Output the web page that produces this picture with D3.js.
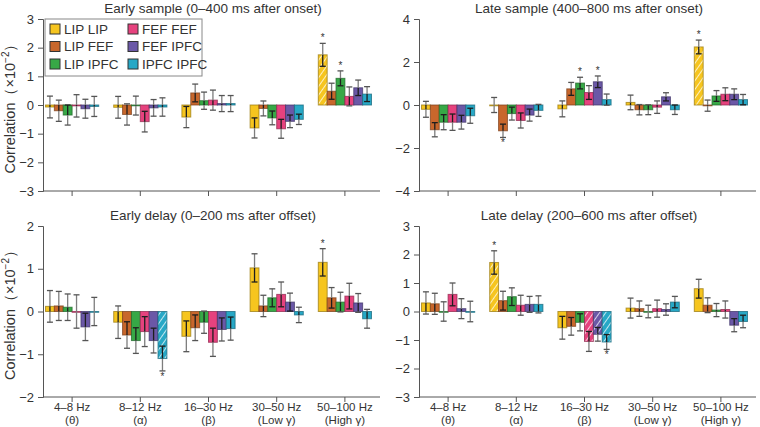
<!DOCTYPE html>
<html><head><meta charset="utf-8">
<script src="https://cdn.jsdelivr.net/npm/d3@7/dist/d3.min.js"></script>
<style>body{margin:0;background:#fff}svg{display:block;font-family:"Liberation Sans",Arial,sans-serif}</style>
</head><body><svg id="c" width="760" height="427"></svg>
<script>
const categories = ["4–8 Hz","8–12 Hz","16–30 Hz","30–50 Hz","50–100 Hz"];
const bandSymbols = ["(θ)","(α)","(β)","(Low γ)","(High γ)"];
const pairs = ["LIP LIP","LIP FEF","LIP IPFC","FEF FEF","FEF IPFC","IPFC IPFC"];
const pairColors = ["#f6c51f","#c8672c","#37a846","#e6427e","#6b58a7","#27a8c6"];
const panelTitles = ["Early sample (0–400 ms after onset)","Late sample (400–800 ms after onset)","Early delay (0–200 ms after offset)","Late delay (200–600 ms after offset)"];
const yLimits = [[-3,3],[-4,4],[-2,2],[-3,3]];
const yTicks = [[-3,-2,-1,0,1,2,3],[-4,-2,0,2,4],[-2,-1,0,1,2],[-3,-2,-1,0,1,2,3]];

const earlySampleValues = [[-0.07,-0.2,-0.35,-0.03,-0.13,-0.05],[-0.08,-0.33,-0.02,-0.58,-0.1,-0.07],[-0.42,0.42,0.15,0.17,0.05,0.05],[-0.8,-0.12,-0.45,-0.83,-0.57,-0.5],[1.75,0.48,0.93,0.3,0.6,0.38]];
const earlySampleErrors = [[0.38,0.37,0.35,0.39,0.33,0.35],[0.38,0.37,0.33,0.36,0.29,0.32],[0.37,0.31,0.3,0.35,0.28,0.28],[0.35,0.26,0.24,0.33,0.22,0.18],[0.4,0.28,0.26,0.33,0.27,0.26]];
const lateSampleValues = [[-0.2,-1.15,-0.8,-0.8,-0.8,-0.5],[0,-1.2,-0.4,-0.72,-0.47,-0.25],[-0.18,0.75,1.02,0.58,1.08,0.25],[0.12,-0.22,-0.22,-0.1,0.38,-0.22],[2.7,-0.03,0.42,0.5,0.5,0.25]];
const lateSampleErrors = [[0.37,0.33,0.35,0.38,0.32,0.35],[0.35,0.31,0.3,0.35,0.28,0.28],[0.37,0.3,0.27,0.32,0.27,0.26],[0.34,0.24,0.23,0.29,0.19,0.22],[0.32,0.26,0.25,0.3,0.25,0.24]];
const earlyDelayValues = [[0.12,0.13,0.1,0,-0.36,0],[-0.25,-0.55,-0.68,-0.47,-0.68,-1.1],[-0.58,-0.38,-0.25,-0.72,-0.42,-0.4],[1.02,0.13,0.32,0.4,0.22,-0.08],[1.15,0.32,0.22,0.36,0.2,-0.17]];
const earlyDelayErrors = [[0.37,0.34,0.31,0.39,0.32,0.33],[0.38,0.31,0.3,0.35,0.29,0.29],[0.36,0.3,0.26,0.33,0.27,0.27],[0.33,0.25,0.21,0.29,0.21,0.18],[0.32,0.24,0.23,0.3,0.22,0.22]];
const lateDelayValues = [[0.3,0.27,0,0.6,0.1,0],[1.72,0.38,0.52,0.22,0.25,0.25],[-0.57,-0.52,-0.38,-1.05,-0.8,-1.07],[0.12,0.1,0,0.1,0.07,0.33],[0.8,0.22,0.05,0.07,-0.48,-0.35]];
const lateDelayErrors = [[0.39,0.37,0.34,0.4,0.35,0.36],[0.41,0.33,0.31,0.35,0.28,0.3],[0.4,0.31,0.3,0.35,0.24,0.26],[0.35,0.27,0.22,0.3,0.2,0.2],[0.33,0.26,0.23,0.3,0.23,0.22]];
// [group, pair]
const hatchedBars = [[[4,0]],[[4,0]],[[1,5]],[[1,0],[2,3],[2,4],[2,5]]];
const starredBars = [[[4,0],[4,2]],[[1,1],[2,2],[2,4],[4,0]],[[1,5],[4,0]],[[1,0],[2,5]]];

const panelValues = [earlySampleValues,lateSampleValues,earlyDelayValues,lateDelayValues];
const panelErrors = [earlySampleErrors,lateSampleErrors,earlyDelayErrors,lateDelayErrors];

const svg = d3.select("#c");
const defs = svg.append("defs");
pairColors.forEach((c,i)=>{
  const p = defs.append("pattern").attr("id","hatch"+i).attr("patternUnits","userSpaceOnUse")
    .attr("width",5).attr("height",5).attr("patternTransform","rotate(35)");
  p.append("rect").attr("width",5).attr("height",5).attr("fill",c);
  p.append("line").attr("x1",0).attr("y1",0).attr("x2",0).attr("y2",5).attr("stroke","#fff").attr("stroke-width",1.6).attr("opacity",0.9);
});

const layout = [
  {ax:43, top:19, bottom:191, labels:false, ylabel:true},
  {ax:419, top:19, bottom:191, labels:false, ylabel:false},
  {ax:43, top:226, bottom:397, labels:true, ylabel:true},
  {ax:419, top:226, bottom:397, labels:true, ylabel:false}
];

layout.forEach((L,pi)=>{
  const g = svg.append("g");
  const y = d3.scaleLinear().domain(yLimits[pi]).range([L.bottom,L.top]);
  const x0 = d3.scaleBand().domain(categories).range([L.ax-5, L.ax+336]).paddingInner(0.22).paddingOuter(0.11);
  const x1 = d3.scaleBand().domain(pairs).range([0,x0.bandwidth()]);
  const vals = panelValues[pi], errs = panelErrors[pi];
  const hatchSet = new Set(hatchedBars[pi].map(d=>d.join("-")));
  const starSet = new Set(starredBars[pi].map(d=>d.join("-")));
  const data = [];
  categories.forEach((c,gi)=>pairs.forEach((p,k)=>data.push({c,p,gi,k,v:vals[gi][k],e:errs[gi][k]})));

  // title
  g.append("text").attr("x",L.ax+170).attr("y",L.top-6).attr("text-anchor","middle")
    .attr("font-size",13.5).attr("fill","#333").text(panelTitles[pi]);

  // y axis
  const yAxis = g.append("g").attr("transform",`translate(${L.ax},0)`)
    .call(d3.axisLeft(y).tickValues(yTicks[pi]).tickSize(5).tickPadding(4).tickFormat(d3.format("d")));
  yAxis.select(".domain").attr("stroke","#555");
  yAxis.selectAll(".tick line").attr("stroke","#555");
  yAxis.selectAll("text").attr("font-size",13).attr("fill","#333").attr("font-family","Liberation Sans, Arial, sans-serif");

  // x axis at bottom
  const xAxis = g.append("g").attr("transform",`translate(0,${L.bottom})`)
    .call(d3.axisBottom(x0).tickSize(5).tickFormat(""));
  xAxis.select(".domain").attr("stroke","#555").attr("d",`M${L.ax},0H${L.ax+337}`);
  xAxis.selectAll(".tick line").attr("stroke","#555");
  if(L.labels){
    categories.forEach((c,gi)=>{
      const cx = x0(c)+x0.bandwidth()/2;
      g.append("text").attr("x",cx).attr("y",L.bottom+14).attr("text-anchor","middle").attr("font-size",11.5).attr("fill","#333").text(c);
      g.append("text").attr("x",cx).attr("y",L.bottom+27).attr("text-anchor","middle").attr("font-size",11.5).attr("fill","#333").text(bandSymbols[gi]);
    });
  }

  // bars
  const z = y(0);
  g.selectAll("rect.bar").data(data).join("rect").attr("class","bar")
    .attr("x",d=>x0(d.c)+x1(d.p)).attr("width",x1.bandwidth())
    .attr("y",d=>Math.min(y(d.v),z)).attr("height",d=>Math.max(Math.abs(y(d.v)-z),0.8))
    .attr("fill",d=>hatchSet.has(d.gi+"-"+d.k)?`url(#hatch${d.k})`:pairColors[d.k])
    .attr("stroke",d=>d3.color(pairColors[d.k]).darker(1.3)).attr("stroke-opacity",0.75).attr("stroke-width",1);

  // error bars: inside-bar portion dark, outside light
  data.forEach(d=>{
    const cx = x0(d.c)+x1(d.p)+x1.bandwidth()/2;
    const lo = d.v-d.e, hi = d.v+d.e;
    const inLo = Math.min(0,d.v), inHi = Math.max(0,d.v);
    const segs = [];
    const pts = [lo, Math.max(lo,Math.min(hi,inLo)), Math.max(lo,Math.min(hi,inHi)), hi];
    for(let i=0;i<3;i++){ if(pts[i+1]>pts[i]) segs.push([pts[i],pts[i+1], i===1]); }
    segs.forEach(s=>{
      g.append("line").attr("x1",cx).attr("x2",cx).attr("y1",y(s[0])).attr("y2",y(s[1]))
        .attr("stroke",s[2]?"#1e1e1e":"#7d7d7d").attr("stroke-width",1.3);
    });
    [lo,hi].forEach(v=>{
      const inside = v>=inLo && v<=inHi;
      g.append("line").attr("x1",cx-3).attr("x2",cx+3).attr("y1",y(v)).attr("y2",y(v))
        .attr("stroke",inside?"#1e1e1e":"#555").attr("stroke-width",1.3);
    });
    if(starSet.has(d.gi+"-"+d.k)){
      const sy = d.v>=0 ? y(hi)-2 : y(lo)+9;
      g.append("text").attr("x",cx).attr("y",sy).attr("text-anchor","middle").attr("font-size",10).attr("fill","#333").text("*");
    }
  });

  // y label
  if(L.ylabel){
    const cy = (L.top+L.bottom)/2;
    const t = g.append("text").attr("transform",`translate(15,${cy}) rotate(-90)`).attr("text-anchor","middle")
      .attr("font-size",14.5).attr("fill","#333");
    t.append("tspan").text("Correlation（×10");
    t.append("tspan").attr("dy",-6).attr("font-size",10).text("−2");
    t.append("tspan").attr("dy",6).text("）");
  }
});

// legend
const lg = svg.append("g");
lg.append("rect").attr("x",45).attr("y",19).attr("width",157).attr("height",57).attr("fill","#fff").attr("stroke","#888").attr("stroke-width",1);
pairs.forEach((p,i)=>{
  const col = Math.floor(i/3), row = i%3;
  const sx = col===0?50:128, sy = 24+row*17.5;
  lg.append("rect").attr("x",sx).attr("y",sy).attr("width",10).attr("height",10).attr("fill",pairColors[i]).attr("stroke","#333").attr("stroke-width",1);
  lg.append("text").attr("x",sx+14).attr("y",sy+9.5).attr("font-size",13.5).attr("fill","#333").text(p);
});
</script></body></html>
